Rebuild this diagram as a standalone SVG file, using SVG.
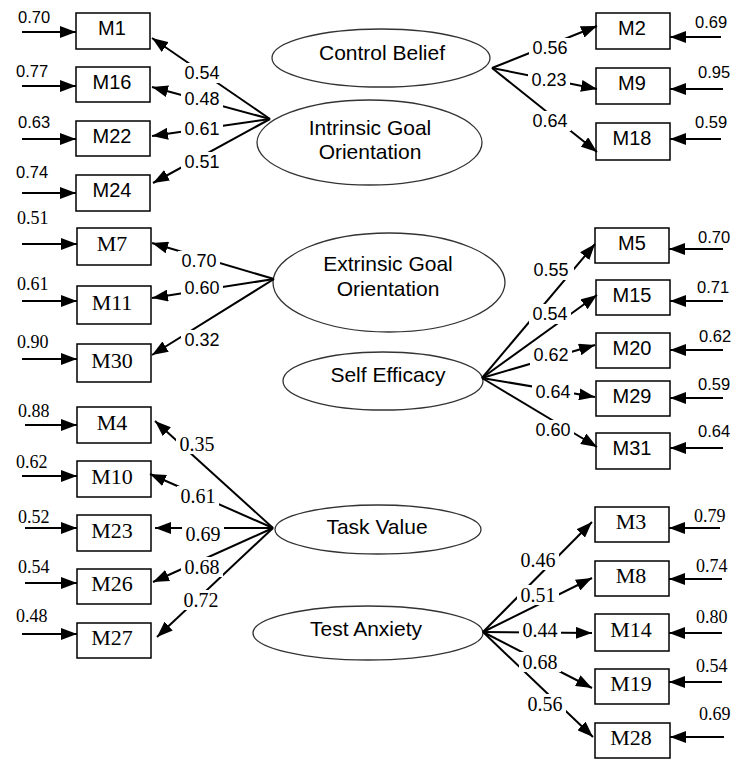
<svg xmlns="http://www.w3.org/2000/svg" width="732" height="759" viewBox="0 0 732 759">
<defs>
<marker id="ah" markerUnits="userSpaceOnUse" markerWidth="16" markerHeight="12" viewBox="0 0 16 12" refX="16" refY="6" orient="auto">
<path d="M0,0 L16,6 L0,12 z" fill="#000"/>
</marker>
<style>
.box{fill:#fff;stroke:#000;stroke-width:1.5}
.lat{fill:#fff;stroke:#333;stroke-width:1.3}
.ln{stroke:#000;stroke-width:2;fill:none;marker-end:url(#ah)}
.bg{fill:#fff}
text{fill:#000}
.ms{font-family:"Liberation Sans",Arial,sans-serif;font-size:20px;text-anchor:middle}
.mr{font-family:"Liberation Serif","Times New Roman",serif;font-size:22px;text-anchor:middle}
.lt{font-family:"Liberation Sans",Arial,sans-serif;font-size:21px;text-anchor:middle}
.ls{font-family:"Liberation Sans",Arial,sans-serif;font-size:18px;text-anchor:middle}
.lr{font-family:"Liberation Serif","Times New Roman",serif;font-size:20px;text-anchor:middle}
.es{font-family:"Liberation Sans",Arial,sans-serif;font-size:16.5px}
.er{font-family:"Liberation Serif","Times New Roman",serif;font-size:18px}
</style>
</defs>
<rect width="732" height="759" fill="#fff"/>

<!-- latent nodes -->
<g id="control-belief"><ellipse class="lat" cx="381" cy="58" rx="109" ry="29"/><text class="lt" x="382" y="60">Control Belief</text></g>
<g id="intrinsic"><ellipse class="lat" cx="369.5" cy="142.5" rx="112.5" ry="42.5"/><text class="lt" x="370" y="135">Intrinsic Goal</text><text class="lt" x="370" y="159">Orientation</text></g>
<g id="extrinsic"><ellipse class="lat" cx="389" cy="282.5" rx="116" ry="49.5"/><text class="lt" x="388" y="271">Extrinsic Goal</text><text class="lt" x="388" y="296">Orientation</text></g>
<g id="self-efficacy"><ellipse class="lat" cx="383" cy="381" rx="100" ry="29"/><text class="lt" x="388" y="382">Self Efficacy</text></g>
<g id="task-value"><ellipse class="lat" cx="378" cy="529.5" rx="103" ry="24.5"/><text class="lt" x="377" y="534">Task Value</text></g>
<g id="test-anxiety"><ellipse class="lat" cx="368" cy="633" rx="115" ry="27"/><text class="lt" x="366" y="636">Test Anxiety</text></g>

<!-- indicator nodes left -->
<g id="M1"><rect class="box" x="76" y="13" width="74" height="36"/><text class="ms" x="112" y="35">M1</text></g>
<g id="M16"><rect class="box" x="76" y="67" width="74" height="35"/><text class="ms" x="112" y="89">M16</text></g>
<g id="M22"><rect class="box" x="76" y="121" width="74" height="35"/><text class="ms" x="112" y="143">M22</text></g>
<g id="M24"><rect class="box" x="76" y="175" width="74" height="36"/><text class="ms" x="112" y="197">M24</text></g>
<g id="M7"><rect class="box" x="77" y="228" width="74" height="37"/><text class="mr" x="112" y="251">M7</text></g>
<g id="M11"><rect class="box" x="77" y="286" width="74" height="38"/><text class="mr" x="112" y="310">M11</text></g>
<g id="M30"><rect class="box" x="77" y="344" width="74" height="38"/><text class="mr" x="112" y="368">M30</text></g>
<g id="M4"><rect class="box" x="77" y="407" width="74" height="36"/><text class="mr" x="112" y="430">M4</text></g>
<g id="M10"><rect class="box" x="77" y="461" width="74" height="36"/><text class="mr" x="112" y="484">M10</text></g>
<g id="M23"><rect class="box" x="77" y="515" width="74" height="36"/><text class="mr" x="112" y="538">M23</text></g>
<g id="M26"><rect class="box" x="77" y="569" width="74" height="35"/><text class="mr" x="112" y="591">M26</text></g>
<g id="M27"><rect class="box" x="77" y="623" width="74" height="35"/><text class="mr" x="112" y="645">M27</text></g>

<!-- indicator nodes right -->
<g id="M2"><rect class="box" x="596" y="13" width="74" height="36"/><text class="ms" x="632" y="35">M2</text></g>
<g id="M9"><rect class="box" x="596" y="68" width="74" height="36"/><text class="ms" x="632" y="90">M9</text></g>
<g id="M18"><rect class="box" x="596" y="123" width="74" height="37"/><text class="ms" x="632" y="145">M18</text></g>
<g id="M5"><rect class="box" x="595" y="228" width="74" height="35"/><text class="ms" x="632" y="250">M5</text></g>
<g id="M15"><rect class="box" x="596" y="280" width="74" height="35"/><text class="ms" x="632" y="302">M15</text></g>
<g id="M20"><rect class="box" x="596" y="333" width="74" height="35"/><text class="ms" x="632" y="355">M20</text></g>
<g id="M29"><rect class="box" x="596" y="381" width="74" height="35"/><text class="ms" x="632" y="403">M29</text></g>
<g id="M31"><rect class="box" x="596" y="433" width="74" height="36"/><text class="ms" x="632" y="455">M31</text></g>
<g id="M3"><rect class="box" x="595" y="507" width="74" height="35"/><text class="mr" x="631" y="529">M3</text></g>
<g id="M8"><rect class="box" x="595" y="561" width="74" height="35"/><text class="mr" x="631" y="583">M8</text></g>
<g id="M14"><rect class="box" x="595" y="614" width="74" height="37"/><text class="mr" x="631" y="637">M14</text></g>
<g id="M19"><rect class="box" x="595" y="669" width="74" height="35"/><text class="mr" x="631" y="691">M19</text></g>
<g id="M28"><rect class="box" x="595" y="723" width="75" height="35"/><text class="mr" x="631" y="745">M28</text></g>

<!-- connectors -->
<g id="connectors">
<!-- error arrows left -->
<line class="ln" x1="22" y1="32" x2="76" y2="32"/>
<line class="ln" x1="22" y1="86" x2="76" y2="86"/>
<line class="ln" x1="22" y1="139" x2="76" y2="139"/>
<line class="ln" x1="22" y1="193" x2="76" y2="193"/>
<line class="ln" x1="22" y1="244" x2="77" y2="244"/>
<line class="ln" x1="22" y1="301" x2="77" y2="301"/>
<line class="ln" x1="22" y1="359" x2="77" y2="359"/>
<line class="ln" x1="25" y1="425" x2="77" y2="425"/>
<line class="ln" x1="22" y1="476" x2="77" y2="476"/>
<line class="ln" x1="25" y1="528" x2="77" y2="528"/>
<line class="ln" x1="25" y1="583" x2="77" y2="583"/>
<line class="ln" x1="22" y1="634" x2="77" y2="634"/>
<!-- error arrows right -->
<line class="ln" x1="721" y1="37" x2="670" y2="37"/>
<line class="ln" x1="723" y1="89" x2="670" y2="89"/>
<line class="ln" x1="721" y1="139" x2="670" y2="139"/>
<line class="ln" x1="723" y1="249" x2="669" y2="249"/>
<line class="ln" x1="723" y1="301" x2="670" y2="301"/>
<line class="ln" x1="723" y1="350" x2="670" y2="350"/>
<line class="ln" x1="723" y1="398" x2="670" y2="398"/>
<line class="ln" x1="723" y1="448" x2="670" y2="448"/>
<line class="ln" x1="720" y1="528" x2="669" y2="528"/>
<line class="ln" x1="722" y1="579" x2="669" y2="579"/>
<line class="ln" x1="722" y1="633" x2="669" y2="633"/>
<line class="ln" x1="722" y1="682" x2="669" y2="682"/>
<line class="ln" x1="724" y1="737" x2="670" y2="737"/>
<!-- intrinsic -->
<line class="ln" x1="270" y1="119" x2="152" y2="38"/>
<line class="ln" x1="270" y1="119" x2="152" y2="87"/>
<line class="ln" x1="270" y1="119" x2="152" y2="136"/>
<line class="ln" x1="270" y1="119" x2="153" y2="183"/>
<!-- control belief -->
<line class="ln" x1="492" y1="68" x2="597" y2="26"/>
<line class="ln" x1="492" y1="68" x2="597" y2="89"/>
<line class="ln" x1="492" y1="68" x2="597" y2="152"/>
<!-- extrinsic -->
<line class="ln" x1="274" y1="279" x2="152" y2="243"/>
<line class="ln" x1="274" y1="279" x2="152" y2="298"/>
<line class="ln" x1="274" y1="279" x2="152" y2="355"/>
<!-- self efficacy -->
<line class="ln" x1="482" y1="378" x2="595" y2="244"/>
<line class="ln" x1="482" y1="378" x2="597" y2="295"/>
<line class="ln" x1="482" y1="378" x2="595" y2="345"/>
<line class="ln" x1="482" y1="378" x2="595" y2="397"/>
<line class="ln" x1="482" y1="378" x2="597" y2="447"/>
<!-- task value -->
<line class="ln" x1="273" y1="528" x2="155" y2="421"/>
<line class="ln" x1="273" y1="528" x2="150" y2="474"/>
<line class="ln" x1="273" y1="528" x2="155" y2="528"/>
<line class="ln" x1="273" y1="528" x2="153" y2="582"/>
<line class="ln" x1="273" y1="528" x2="157" y2="637"/>
<!-- test anxiety -->
<line class="ln" x1="483" y1="632" x2="592" y2="522"/>
<line class="ln" x1="483" y1="632" x2="592" y2="578"/>
<line class="ln" x1="483" y1="632" x2="592" y2="633"/>
<line class="ln" x1="483" y1="632" x2="592" y2="688"/>
<line class="ln" x1="483" y1="632" x2="593" y2="737"/>
</g>

<!-- loading labels -->
<g id="loading-labels">
<rect class="bg" x="181" y="63" width="42" height="20"/><text class="ls" x="202" y="79">0.54</text>
<rect class="bg" x="181" y="89" width="42" height="20"/><text class="ls" x="202" y="105">0.48</text>
<rect class="bg" x="181" y="119" width="42" height="20"/><text class="ls" x="202" y="135">0.61</text>
<rect class="bg" x="181" y="152" width="42" height="20"/><text class="ls" x="202" y="168">0.51</text>
<rect class="bg" x="529" y="38" width="42" height="20"/><text class="ls" x="550" y="54">0.56</text>
<rect class="bg" x="528" y="70" width="42" height="20"/><text class="ls" x="549" y="86">0.23</text>
<rect class="bg" x="529" y="111" width="42" height="20"/><text class="ls" x="550" y="127">0.64</text>
<rect class="bg" x="178" y="251" width="42" height="20"/><text class="ls" x="199" y="267">0.70</text>
<rect class="bg" x="181" y="278" width="42" height="20"/><text class="ls" x="202" y="294">0.60</text>
<rect class="bg" x="181" y="330" width="42" height="20"/><text class="ls" x="202" y="346">0.32</text>
<rect class="bg" x="530" y="260" width="44" height="20"/><text class="ls" x="551" y="276">0.55</text>
<rect class="bg" x="529" y="304" width="42" height="20"/><text class="ls" x="550" y="320">0.54</text>
<rect class="bg" x="530" y="345" width="42" height="20"/><text class="ls" x="551" y="361">0.62</text>
<rect class="bg" x="532" y="382" width="42" height="20"/><text class="ls" x="553" y="398">0.64</text>
<rect class="bg" x="532" y="420" width="42" height="20"/><text class="ls" x="553" y="436">0.60</text>
<rect class="bg" x="176" y="434" width="42" height="20"/><text class="lr" x="197" y="451">0.35</text>
<rect class="bg" x="177" y="486" width="42" height="20"/><text class="lr" x="198" y="503">0.61</text>
<rect class="bg" x="182" y="524" width="42" height="20"/><text class="lr" x="203" y="541">0.69</text>
<rect class="bg" x="181" y="557" width="42" height="20"/><text class="lr" x="202" y="574">0.68</text>
<rect class="bg" x="180" y="590" width="42" height="20"/><text class="lr" x="201" y="607">0.72</text>
<rect class="bg" x="517" y="550" width="42" height="20"/><text class="lr" x="538" y="567">0.46</text>
<rect class="bg" x="517" y="585" width="42" height="20"/><text class="lr" x="538" y="602">0.51</text>
<rect class="bg" x="519" y="620" width="42" height="20"/><text class="lr" x="540" y="637">0.44</text>
<rect class="bg" x="519" y="652" width="42" height="20"/><text class="lr" x="540" y="669">0.68</text>
<rect class="bg" x="524" y="694" width="42" height="20"/><text class="lr" x="545" y="711">0.56</text>
</g>

<!-- error labels -->
<g id="error-labels">
<text class="es" x="18" y="23">0.70</text>
<text class="es" x="16" y="77">0.77</text>
<text class="es" x="18" y="128">0.63</text>
<text class="es" x="16" y="178">0.74</text>
<text class="er" x="17" y="224">0.51</text>
<text class="er" x="17" y="290">0.61</text>
<text class="er" x="17" y="348">0.90</text>
<text class="er" x="18" y="417">0.88</text>
<text class="er" x="16" y="468">0.62</text>
<text class="er" x="18" y="523">0.52</text>
<text class="er" x="18" y="573">0.54</text>
<text class="er" x="16" y="622">0.48</text>
<text class="es" x="695" y="28">0.69</text>
<text class="es" x="698" y="78">0.95</text>
<text class="es" x="695" y="128">0.59</text>
<text class="es" x="698" y="243">0.70</text>
<text class="es" x="697" y="293">0.71</text>
<text class="es" x="699" y="342">0.62</text>
<text class="es" x="698" y="390">0.59</text>
<text class="es" x="698" y="437">0.64</text>
<text class="er" x="694" y="522">0.79</text>
<text class="er" x="696" y="572">0.74</text>
<text class="er" x="696" y="623">0.80</text>
<text class="er" x="696" y="672">0.54</text>
<text class="er" x="699" y="720">0.69</text>
</g>
</svg>
